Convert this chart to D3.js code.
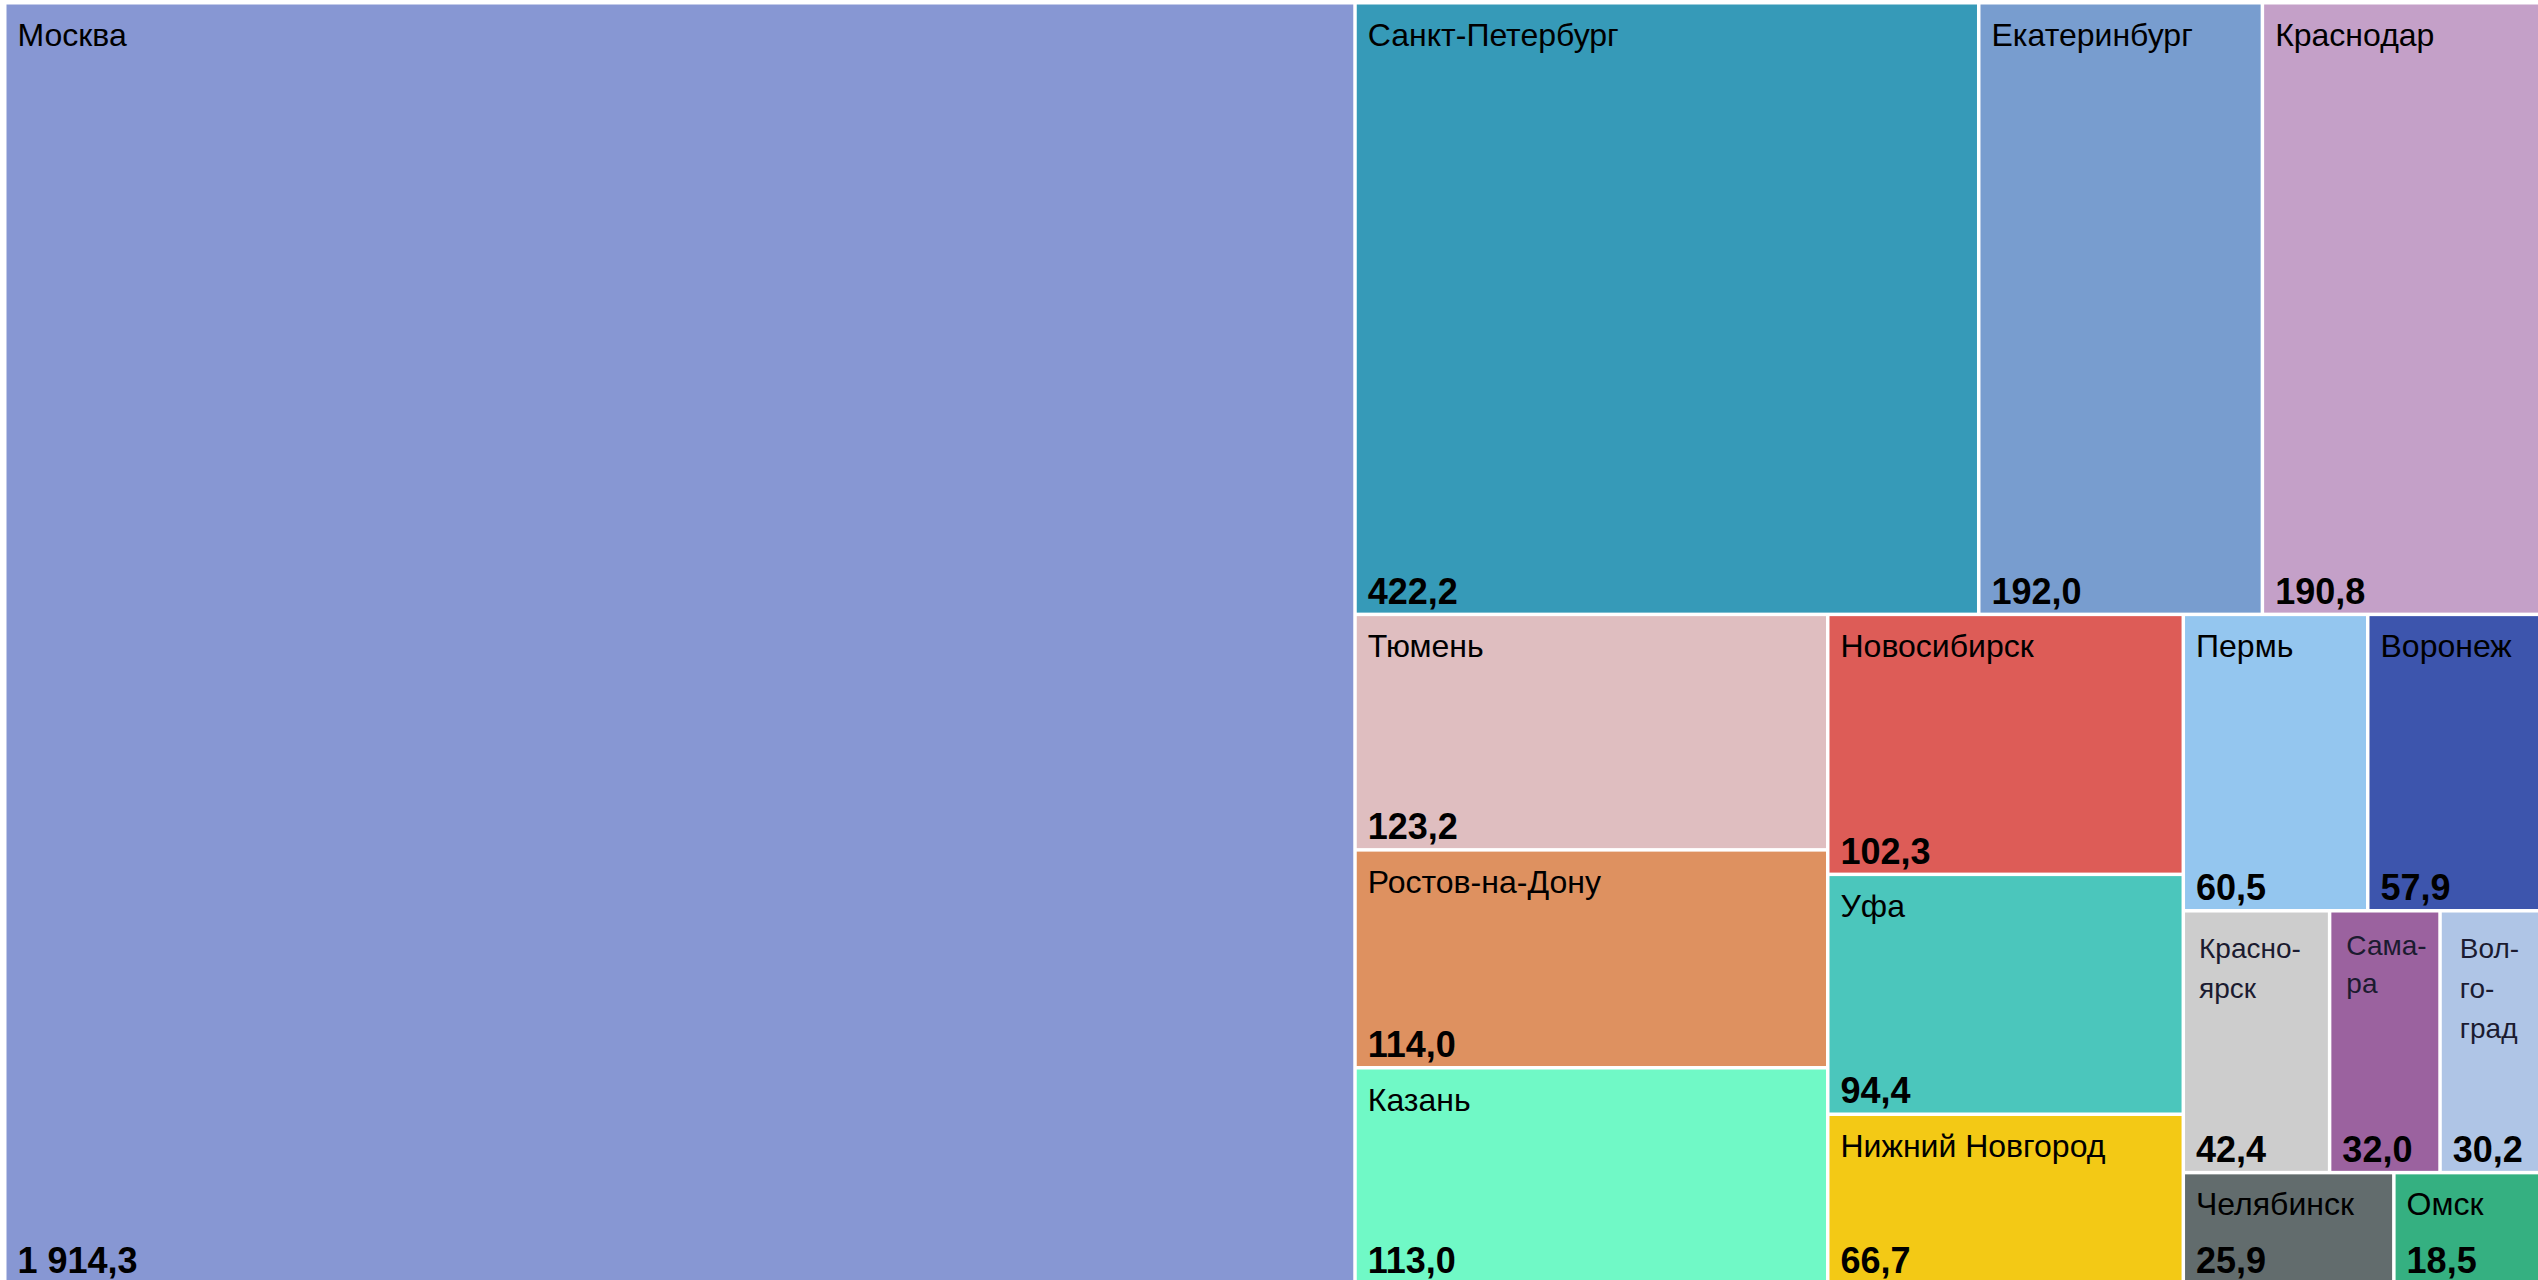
<!DOCTYPE html>
<html>
<head>
<meta charset="utf-8">
<script src="https://cdn.jsdelivr.net/npm/d3@7"></script>
<style>
  html, body { margin: 0; padding: 0; background: #ffffff; overflow: hidden; }
  svg { display: block; }
</style>
</head>
<body>
<svg id="chart" width="2538" height="1280"></svg>
<script>
// ---- data ----
const cities = ["Москва","Санкт-Петербург","Екатеринбург","Краснодар","Тюмень","Ростов-на-Дону","Казань","Новосибирск","Уфа","Нижний Новгород","Пермь","Воронеж","Красноярск","Самара","Волгоград","Челябинск","Омск"];
const values = [1914.3,422.2,192.0,190.8,123.2,114.0,113.0,102.3,94.4,66.7,60.5,57.9,42.4,32.0,30.2,25.9,18.5];
const colors = ["#8797d3","#369ab8","#789dcf","#c4a0c8","#dfbec0","#de9160","#70f9c6","#dd5c57","#4bc6bc","#f3c915","#94c6ef","#3d55ad","#cdcdcd","#9b629f","#afc5e6","#626c6d","#35b081"];
// hyphenated labels for narrow cells
const wrappedLines = {
  "Красноярск": ["Красно-","ярск"],
  "Самара": ["Сама-","ра"],
  "Волгоград": ["Вол-","го-","град"]
};

const fmt = v => {
  const s = v.toFixed(1).replace(".", ",");
  const [i, d] = s.split(",");
  return i.replace(/\B(?=(\d{3})+(?!\d))/g, " ") + "," + d;
};

const X0 = 6.5, Y0 = 4.5, W = 2536, H = 1277.5;

// style for wrapped labels (position inside cell)
const wrapStyle = {
  "Красноярск": { x: 14, y: 45, dy: 40 },
  "Самара":     { x: 15, y: 42, dy: 38 },
  "Волгоград":  { x: 18, y: 45, dy: 40 }
};

const rootData = { children: cities.map((c, i) => ({ name: c, value: values[i], color: colors[i] })) };
const root = d3.hierarchy(rootData).sum(d => d.value || 0).sort((a, b) => b.value - a.value);
d3.treemap().tile(d3.treemapSquarify).size([W, H]).paddingInner(3.5).round(false)(root);

const svg = d3.select("#chart");
const g = svg.append("g").attr("transform", `translate(${X0},${Y0})`);

const cell = g.selectAll("g.cell").data(root.leaves()).join("g")
  .attr("class", "cell")
  .attr("transform", d => `translate(${d.x0},${d.y0})`);

cell.append("rect")
  .attr("width", d => d.x1 - d.x0)
  .attr("height", d => d.y1 - d.y0)
  .attr("fill", d => d.data.color);

cell.each(function(d) {
  const sel = d3.select(this);
  const lines = wrappedLines[d.data.name];
  if (lines) {
    const st = wrapStyle[d.data.name];
    const t = sel.append("text")
      .attr("font-family", "'Liberation Sans', Arial, sans-serif")
      .attr("font-size", 28)
      .attr("fill", "#1b1b30");
    lines.forEach((l, k) => {
      t.append("tspan").attr("x", st.x).attr("y", st.y + k * st.dy).text(l);
    });
  } else {
    sel.append("text")
      .attr("x", 11).attr("y", 41)
      .attr("font-family", "'Liberation Sans', Arial, sans-serif")
      .attr("font-size", 32)
      .attr("fill", "#000")
      .text(d.data.name);
  }
  sel.append("text")
    .attr("x", 11).attr("y", (d.y1 - d.y0) - 9)
    .attr("font-family", "'Liberation Sans', Arial, sans-serif")
    .attr("font-size", 36)
    .attr("font-weight", "bold")
    .attr("fill", "#000")
    .text(fmt(d.data.value));
});
</script>
</body>
</html>
